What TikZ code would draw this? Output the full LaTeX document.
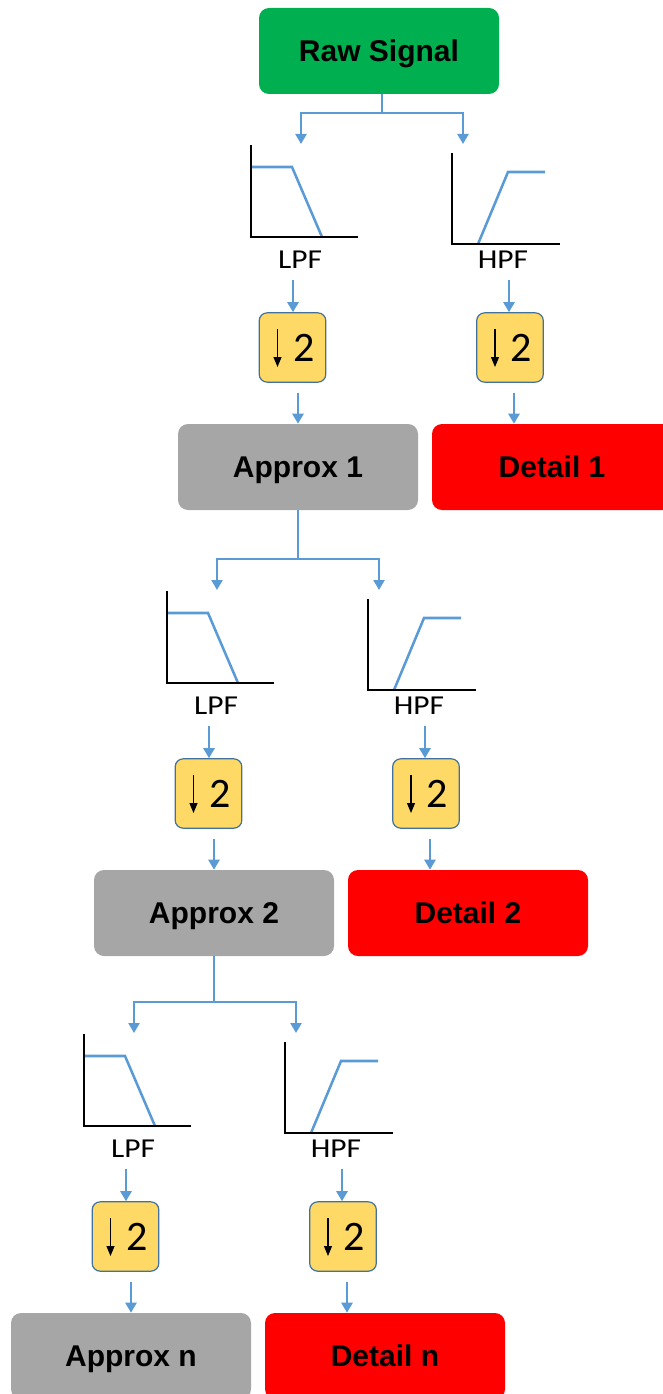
\documentclass[tikz,border=0pt]{standalone}
\usepackage{fontspec}
\usepackage{graphicx}
\setmainfont{Liberation Sans}
\newfontfamily\calib{Carlito}
\usetikzlibrary{arrows.meta,calc}
\definecolor{rawgreen}{HTML}{00B050}
\definecolor{approxgray}{HTML}{A6A6A6}
\definecolor{detailred}{HTML}{FF0000}
\definecolor{lineblue}{HTML}{5B9BD5}
\definecolor{dsyellow}{HTML}{FFD966}
\definecolor{dsborder}{HTML}{41719C}
\begin{document}
\begin{tikzpicture}[x=0.75pt,y=-0.75pt,
  conn/.style={draw=lineblue, line width=1.8pt},
  arr/.style={conn,-{Triangle[width=8.25pt,length=7.5pt]}},
  bigbox/.style={rounded corners=7.5pt, minimum width=180pt, minimum height=64.5pt, inner sep=0pt, text depth=0pt, font=\bfseries\fontsize{22.5}{27}\selectfont},
  approxbox/.style={bigbox, fill=approxgray},
  detailbox/.style={bigbox, fill=detailred},
  dsbox/.style={draw=dsborder, line width=0.9pt, fill=dsyellow, rounded corners=6pt, minimum width=50pt, minimum height=52pt, inner sep=0pt},
  flabel/.style={font=\calib\fontsize{20.5}{24}\selectfont, inner sep=0pt},
  twolabel/.style={font=\calib\fontsize{31.5}{32}\selectfont, inner sep=0pt},
  axisline/.style={draw=black, line width=2.2pt},
  resp/.style={draw=lineblue, line width=1.9pt},
  dsarrow/.style={draw=black, line width=0.8pt, -{Triangle[width=6pt,length=7.5pt]}},
]
\useasboundingbox (0,0) rectangle (663,1394);
\node[bigbox, fill=rawgreen] (raw) at (379,51) {Raw Signal};

\foreach \i/\dx/\dy/\pr/\nm/\sx in {1/0/0/raw/1/3, 2/-84/446/appr1/2/0, 3/-167/889/appr2/n/0} {
  % split
  \coordinate (lv\i) at ({0+\dx},{113+\dy});
  \coordinate (st\i) at ($(\pr.south)+(\sx,0)$);
  \coordinate (lin\i) at ({301+\dx},{144+\dy});
  \coordinate (hin\i) at ({463+\dx},{144+\dy});
  \draw[conn] (st\i) -- (st\i |- lv\i);
  \draw[arr] (st\i |- lv\i) -| (lin\i);
  \draw[arr] (st\i |- lv\i) -| (hin\i);
  % LPF icon
  \draw[resp] ({251+\dx},{167+\dy}) -- ({292+\dx},{167+\dy}) -- ({322+\dx},{237+\dy});
  \draw[axisline] ({251+\dx},{145+\dy}) -- ({251+\dx},{237+\dy}) -- ({358+\dx},{237+\dy});
  % HPF icon
  \draw[resp] ({478+\dx},{244+\dy}) -- ({508+\dx},{172+\dy}) -- ({545+\dx},{172+\dy});
  \draw[axisline] ({452+\dx},{153+\dy}) -- ({452+\dx},{244+\dy}) -- ({560+\dx},{244+\dy});
  % labels
  \node[flabel] (lpf\i) at ({300+\dx},{260+\dy}) {\scalebox{1.15}[1]{LPF}};
  \node[flabel] (hpf\i) at ({503+\dx},{260+\dy}) {\scalebox{1.15}[1]{HPF}};
  % downsample boxes
  \node[dsbox] (dsl\i) at ({292.5+\dx},{347.5+\dy}) {};
  \node[dsbox] (dsh\i) at ({510+\dx},{347.5+\dy}) {};
  % outputs
  \node[approxbox] (appr\i) at ({298+\dx},{467+\dy}) {Approx \nm};
  \node[detailbox] (det\i) at ({552+\dx},{467+\dy}) {Detail \nm};
  % arrows
  \coordinate (tl\i) at ($(dsl\i.north)+(0.5,-32)$);
  \coordinate (th\i) at ($(dsh\i.north)+(-1,-32)$);
  \draw[arr] (tl\i) -- (tl\i |- dsl\i.north);
  \draw[arr] (th\i) -- (th\i |- dsh\i.north);
  \coordinate (bl\i) at ($(dsl\i.south)+(5.5,10)$);
  \coordinate (bh\i) at ($(dsh\i.south)+(4,10)$);
  \draw[arr] (bl\i) -- (bl\i |- appr\i.north);
  \draw[arr] (bh\i) -- (bh\i |- det\i.north);
  % downsample symbols
  \foreach \s in {l,h} {
    \draw[dsarrow] ($(ds\s\i.center)+(-15,-18.5)$) -- ($(ds\s\i.center)+(-15,19.5)$);
    \node[twolabel] at ($(ds\s\i.center)+(11.5,0)$) {2};
  }
}
\end{tikzpicture}
\end{document}
